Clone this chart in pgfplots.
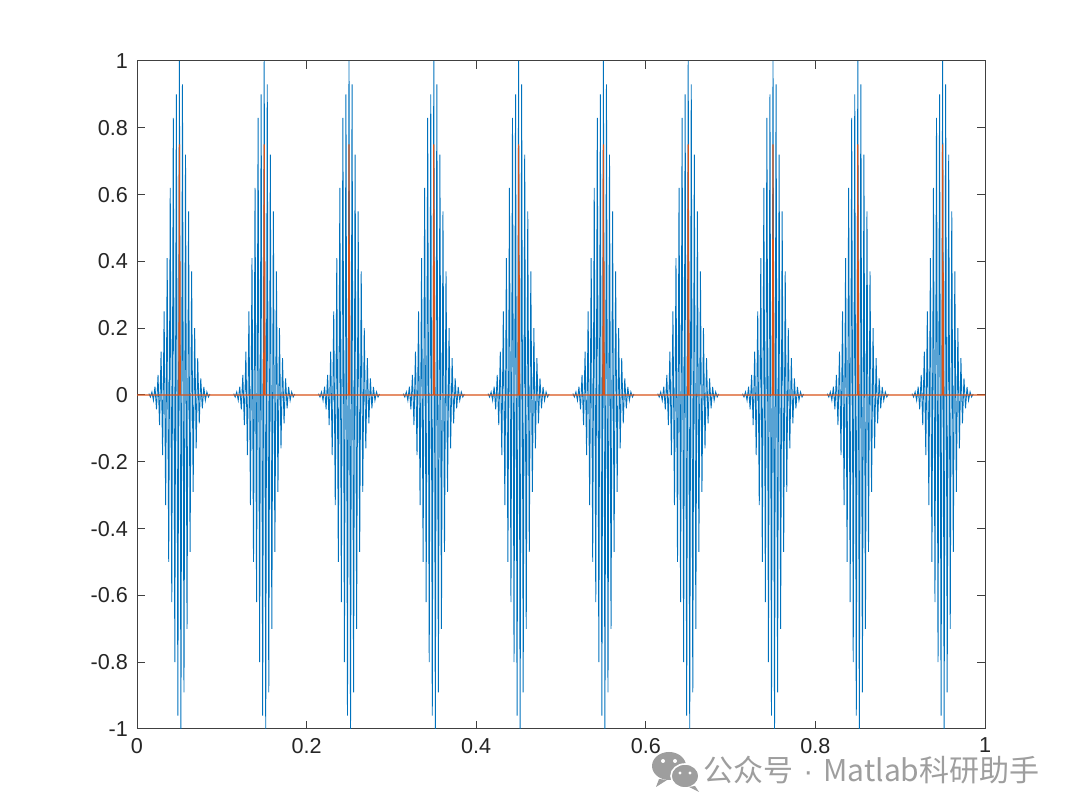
\documentclass[border=0pt]{standalone}
\usepackage{fontspec}
\setmainfont{Liberation Sans}
\newfontfamily\cjk{Noto Sans CJK SC}
\usepackage{pgfplots}
\usepackage{pgfplotstable}
\pgfplotsset{compat=1.18}

\definecolor{mblue}{HTML}{0072BD}
\definecolor{morange}{HTML}{D95319}
\definecolor{maxis}{HTML}{404040}
\definecolor{wmark}{HTML}{9E9E9E}

% one burst of the pulse train: offset from the pulse centre, value
\pgfplotstableread{
t v
-0.0360 0.004
-0.0342 -0.006
-0.0324 0.009
-0.0306 -0.016
-0.0288 0.025
-0.0270 -0.043
-0.0252 0.060
-0.0234 -0.090
-0.0216 0.130
-0.0198 -0.180
-0.0180 0.250
-0.0162 -0.330
-0.0144 0.410
-0.0126 -0.500
-0.0108 0.620
-0.0090 -0.620
-0.0072 0.830
-0.0054 -0.800
-0.0036 0.900
-0.0018 -0.960
0.0000 1.000
0.0018 -1.000
0.0036 0.930
0.0054 -0.890
0.0072 0.720
0.0090 -0.700
0.0108 0.550
0.0126 -0.470
0.0144 0.370
0.0162 -0.290
0.0180 0.200
0.0198 -0.160
0.0216 0.110
0.0234 -0.085
0.0252 0.050
0.0270 -0.040
0.0288 0.024
0.0306 -0.016
0.0324 0.009
0.0342 -0.006
0.0360 0.003
}\burst

\begin{document}
\begin{tikzpicture}
\useasboundingbox (-68.5pt,-41.5pt) rectangle (471.5pt,364.5pt);
\begin{axis}[
    at={(0,0)}, anchor=south west,
    scale only axis,
    width=424pt, height=334pt,
    xmin=0, xmax=1, ymin=-1, ymax=1,
    xtick={0,0.2,0.4,0.6,0.8,1},
    xticklabels={0,0.2,0.4,0.6,0.8,1},
    ytick={-1,-0.8,-0.6,-0.4,-0.2,0,0.2,0.4,0.6,0.8,1},
    yticklabels={-1,-0.8,-0.6,-0.4,-0.2,0,0.2,0.4,0.6,0.8,1},
    tick align=inside,
    major tick length=4pt,
    tick style={maxis, line width=0.5pt},
    axis line style={maxis, line width=0.5pt},
    ticklabel style={font=\fontsize{10.8}{12}\selectfont, text=black!85},
    xticklabel style={yshift=-1pt},
    yticklabel style={xshift=-1pt},
    clip=true,
]
\pgfplotsinvokeforeach{0.05,0.15,0.25,0.35,0.45,0.55,0.65,0.75,0.85,0.95}{
  \addplot[mblue, line width=0.45pt] table[x expr=\thisrow{t}+#1, y=v]{\burst};
}
\addplot[morange, line width=0.6pt] coordinates {
(0,0) (0.0495,0) (0.05,0.75) (0.0503,0.23) (0.0506,0.40) (0.051,0)
(0.1495,0) (0.15,0.75) (0.1503,0.23) (0.1506,0.40) (0.151,0)
(0.2495,0) (0.25,0.75) (0.2503,0.23) (0.2506,0.40) (0.251,0)
(0.3495,0) (0.35,0.75) (0.3503,0.23) (0.3506,0.40) (0.351,0)
(0.4495,0) (0.45,0.75) (0.4503,0.23) (0.4506,0.40) (0.451,0)
(0.5495,0) (0.55,0.75) (0.5503,0.23) (0.5506,0.40) (0.551,0)
(0.6495,0) (0.65,0.75) (0.6503,0.23) (0.6506,0.40) (0.651,0)
(0.7495,0) (0.75,0.75) (0.7503,0.23) (0.7506,0.40) (0.751,0)
(0.8495,0) (0.85,0.75) (0.8503,0.23) (0.8506,0.40) (0.851,0)
(0.9495,0) (0.95,0.75) (0.9503,0.23) (0.9506,0.40) (0.951,0)
(1,0)
};
\end{axis}
% watermark
\fill[wmark] (266pt,-18.5pt) ellipse [x radius=8.5pt, y radius=7pt];
\fill[wmark] (261pt,-25pt) -- (259.5pt,-29pt) -- (265pt,-25.5pt) -- cycle;
\fill[white] (263pt,-16pt) circle (1pt) (269pt,-16pt) circle (1pt);
\filldraw[wmark, draw=white, line width=0.8pt] (274pt,-23.5pt) ellipse [x radius=7pt, y radius=6pt];
\fill[wmark] (279pt,-28.5pt) -- (281pt,-31.5pt) -- (276pt,-29pt) -- cycle;
\fill[white] (271.5pt,-22pt) circle (0.8pt) (276.5pt,-22pt) circle (0.8pt);
\node[anchor=west, inner sep=0pt, text=wmark, font=\cjk\fontsize{15}{18}\selectfont] at (283pt,-20.5pt) {公众号{\rmfamily\hspace{5pt}·\hspace{5pt}}Matlab科研助手};
\end{tikzpicture}
\end{document}
